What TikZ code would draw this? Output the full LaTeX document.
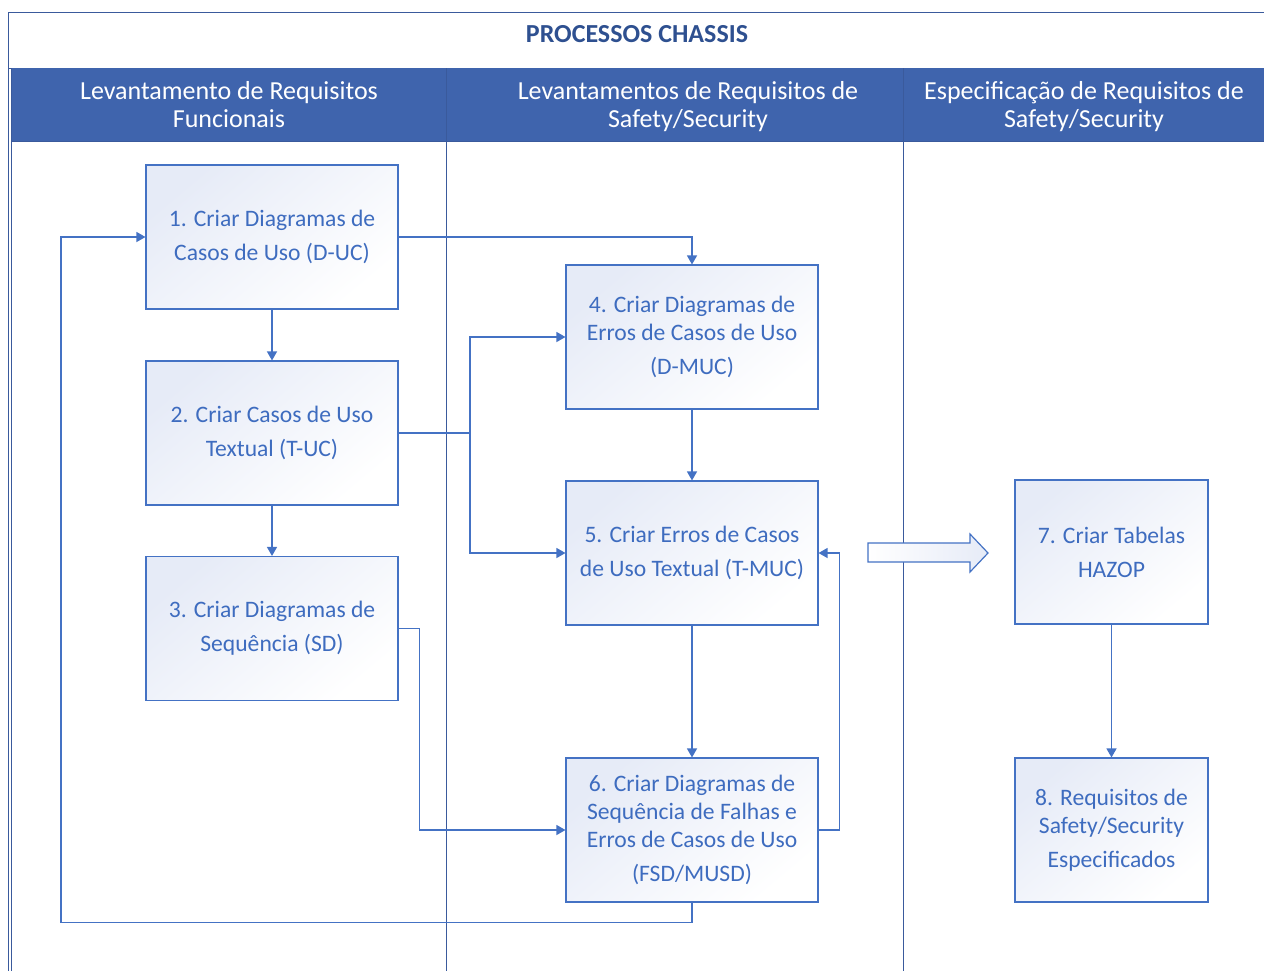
\documentclass[tikz,border=0pt]{standalone}
\usepackage{fontspec}
\setmainfont{Carlito}
\usetikzlibrary{arrows.meta}
\definecolor{lineblue}{HTML}{4472C4}
\definecolor{headblue}{HTML}{3F64AD}
\definecolor{lanecol}{HTML}{3A5A9C}
\definecolor{titlecol}{HTML}{2E5090}
\definecolor{textblue}{HTML}{3E6CBF}
\definecolor{boxshade}{HTML}{E6EBF7}
\tikzset{
  procbox/.style={draw=lineblue, line width=1.1pt, top color=boxshade, bottom color=white,
    shading angle=40, minimum width=252pt, minimum height=144pt, inner sep=0pt,
    align=center, text=textblue, font=\fontsize{23.6}{28}\selectfont},
  narrowbox/.style={procbox, minimum width=193pt},
  conn/.style={draw=lineblue, line width=1.3pt},
  flow/.style={conn, -{Triangle[length=9pt,width=10pt]}},
  laneline/.style={draw=lanecol, line width=0.9pt},
  headtext/.style={text=white, align=center, font=\fontsize{26}{28}\selectfont},
}
\begin{document}
\begin{tikzpicture}[x=1pt,y=-1pt]
\useasboundingbox (0,0) rectangle (1264,970);
% pool frame, header band and lane separators
\begin{scope}
\clip (0,0) rectangle (1264,970);
\draw[laneline] (8,12) rectangle (1300,1000);
\draw[laneline] (8,68) -- (1300,68);
\fill[headblue] (11,68) rectangle (1300,141);
\draw[laneline] (11,68) -- (11,1000);
\draw[laneline] (446,68) -- (446,1000);
\draw[laneline] (903,68) -- (903,1000);
\draw[laneline] (11,141) -- (1300,141);
\end{scope}
\node[text=titlecol, font=\bfseries\fontsize{26}{30}\selectfont] (title) at (637,34) {PROCESSOS CHASSIS};
\node[headtext] (lane1) at (229,105) {Levantamento de Requisitos\\Funcionais};
\node[headtext] (lane2) at (688,107) {Levantamentos de Requisitos de\\Safety/Security};
\node[headtext] (lane3) at (1084,107) {Especificação de Requisitos de\\Safety/Security};

% process steps
\node[procbox] (p1) at (272,237) {1. Criar Diagramas de\\[6pt]Casos de Uso (D-UC)};
\node[procbox] (p2) at (272,433) {2. Criar Casos de Uso\\[6pt]Textual (T-UC)};
\node[procbox] (p3) at (272,628.5) {3. Criar Diagramas de\\[6pt]Sequência (SD)};
\node[procbox] (p4) at (692,337) {4. Criar Diagramas de\\Erros de Casos de Uso\\[6pt](D-MUC)};
\node[procbox] (p5) at (692,553) {5. Criar Erros de Casos\\[6pt]de Uso Textual (T-MUC)};
\node[procbox] (p6) at (692,830) {6. Criar Diagramas de\\Sequência de Falhas e\\Erros de Casos de Uso\\[6pt](FSD/MUSD)};
\node[narrowbox] (p7) at (1111.5,552) {7. Criar Tabelas\\[6pt]HAZOP};
\node[narrowbox] (p8) at (1111.5,830) {8. Requisitos de\\Safety/Security\\[6pt]Especificados};

% connectors
\coordinate (split) at (470,433);
\draw[flow] (p1.east) -| (p4.north);
\draw[flow] (p1.south) -- (p2.north);
\draw[flow] (p2.south) -- (p3.north);
\draw[conn] (p2.east) -- (split);
\draw[flow] (split) |- (p4.west);
\draw[flow] (split) |- (p5.west);
\draw[flow] (p3.east) -- ++(21,0) |- (p6.west);
\draw[flow] (p4.south) -- (p5.north);
\draw[flow] (p5.south) -- (p6.north);
\draw[flow] (p6.east) -- ++(21,0) |- (p5.east);
\draw[flow] (p6.south) -- ++(0,20) -| (61,237) -- (p1.west);
\draw[flow] (p7.south) -- (p8.north);

% hand-over arrow between lanes
\path[draw=lineblue, line width=1.2pt, left color=white, right color=boxshade]
  (868,543) -- (970,543) -- (970,534) -- (988,553) -- (970,572) -- (970,562) -- (868,562) -- cycle;
\end{tikzpicture}
\end{document}
